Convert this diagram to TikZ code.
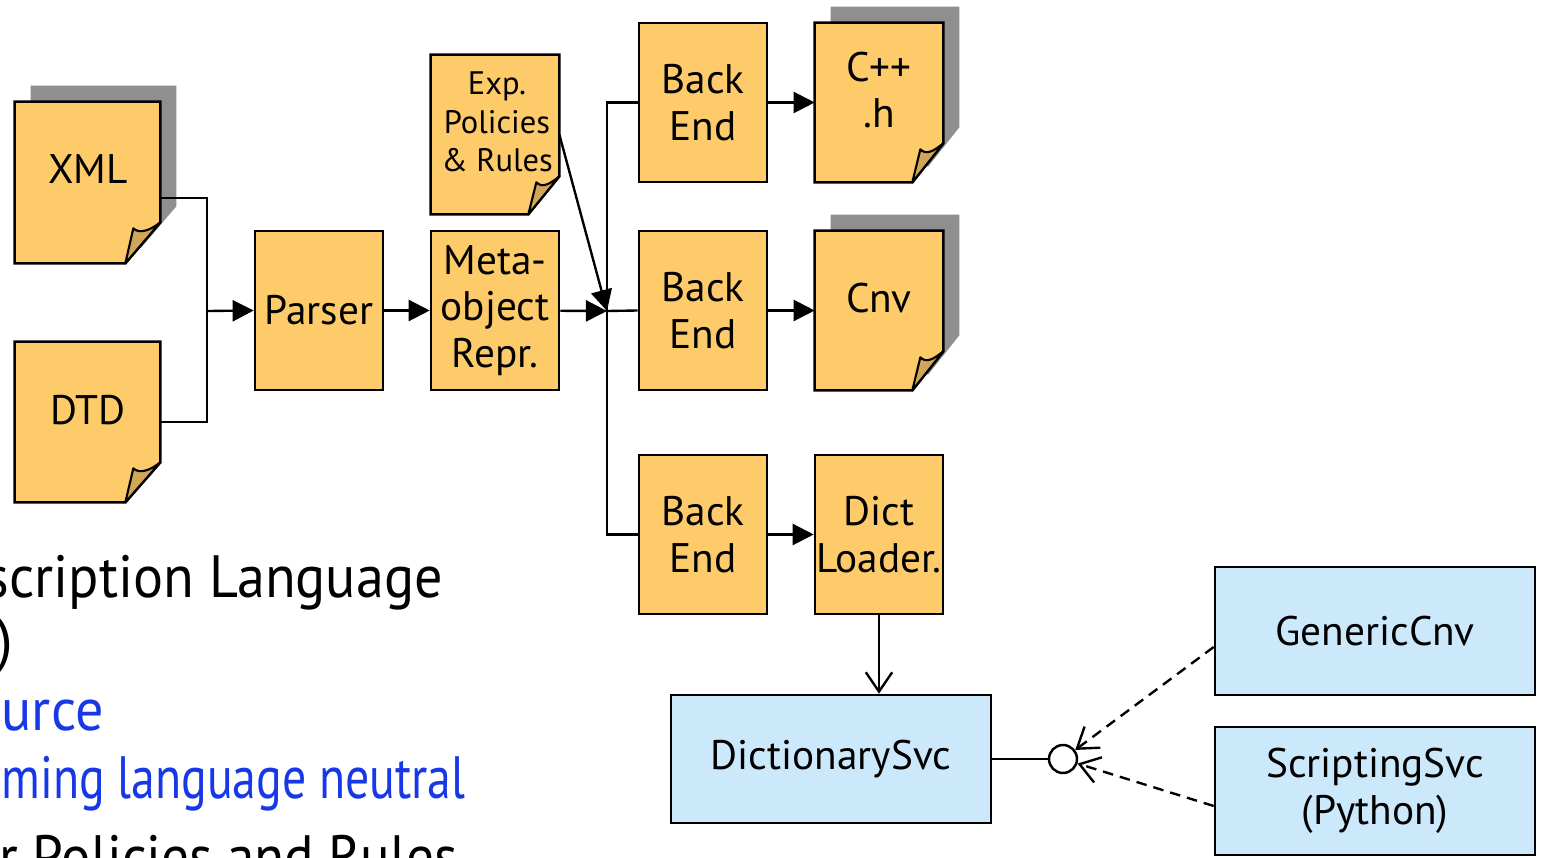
\documentclass[tikz,border=0pt]{standalone}
\usepackage{fontspec}
\setmainfont{PT Sans}
\usetikzlibrary{arrows.meta,calc}
\definecolor{docfill}{HTML}{FDCB69}
\definecolor{flapfill}{HTML}{D2A658}
\definecolor{shadowc}{HTML}{8F8F8F}
\definecolor{svcfill}{HTML}{CCE9FB}
\definecolor{bluetxt}{HTML}{1838E8}
\tikzset{
 box/.style={draw, line width=1.5pt, fill=docfill, inner sep=0pt, minimum width=2.56cm, minimum height=3.18cm, align=center, font=\fontsize{23.5}{26.5}\selectfont},
 docnode/.style={inner sep=0pt, draw=none},
 doctext/.style={align=center, inner sep=0pt, font=\fontsize{23.5}{26.5}\selectfont},
 svc/.style={draw, line width=1.5pt, fill=svcfill, inner sep=0pt, minimum width=6.4cm, minimum height=2.56cm, align=center, font=\fontsize{23.5}{26.5}\selectfont},
 conn/.style={line width=1.35pt},
 tri/.style={-{Triangle[length=12pt,width=12pt]}},
 barb/.style={-{Straight Barb[length=11pt,width=15pt]}},
 bigtxt/.style={anchor=base east, inner sep=0pt, font=\fontsize{34}{40}\selectfont},
}
\newcommand\DocShadow[3]{%
 \fill[shadowc] ($(#1.north west)+(16,-16)$) -- ($(#1.north east)+(16,-16)$) -- ($(#1.south east)+(16,-16-#3)$) -- ($(#1.south east)+(16-#2,-16)$) -- ($(#1.south west)+(16,-16)$) -- cycle;}
\newcommand\DocFace[3]{%
 \draw[line width=1.5pt, fill=docfill] (#1.north west) -- (#1.north east) -- ($(#1.south east)+(0,-#3)$) -- ($(#1.south east)+(-#2,0)$) -- (#1.south west) -- cycle;
 \draw[line width=1.2pt, fill=flapfill, line join=round] ($(#1.south east)+(-#2,0)$) -- ($(#1.south east)+(-#2+8,-#3+6)$) .. controls ($(#1.south east)+(-#2+14,-#3+12)$) and ($(#1.south east)+(-10,-#3+8)$) .. ($(#1.south east)+(0,-#3)$) -- cycle;}
\begin{document}
\begin{tikzpicture}[x=0.02cm,y=-0.02cm]
\useasboundingbox (0,0) rectangle (1551,858);
% document shapes
\node[docnode, minimum width=2.9cm, minimum height=3.22cm] (xml) at (87.5,182.5) {};
\node[docnode, minimum width=2.9cm, minimum height=3.2cm] (dtd) at (87.5,422) {};
\node[docnode, minimum width=2.56cm, minimum height=3.18cm] (exp) at (495,134.5) {};
\node[docnode, minimum width=2.56cm, minimum height=3.18cm] (cpp) at (879,102.5) {};
\node[docnode, minimum width=2.56cm, minimum height=3.18cm] (cnv) at (879,310.5) {};
\DocShadow{xml}{35}{41}
\DocShadow{cpp}{31}{39}
\DocShadow{cnv}{31}{39}
\DocFace{xml}{35}{41}
\DocFace{dtd}{35}{40}
\DocFace{exp}{31}{38}
\DocFace{cpp}{31}{39}
\DocFace{cnv}{31}{39}
\node[doctext] (xmlt) at (88,169) {XML};
\node[doctext] (dtdt) at (88,410) {DTD};
\node[doctext, font=\fontsize{18.5}{21.8}\selectfont] (expt) at (497,122) {Exp.\\Policies\\\& Rules};
\node[doctext] (cppt) at (879,90) {C++\\.h};
\node[doctext] (cnvt) at (879,298) {Cnv};
% boxes
\node[box] (parser) at (319,310.5) {Parser};
\node[box] (meta) at (495,310.5) {Meta-\\object\\Repr.};
\node[box] (be1) at (703,102.5) {Back\\End};
\node[box] (be2) at (703,310.5) {Back\\End};
\node[box] (be3) at (703,534.5) {Back\\End};
\node[box] (dict) at (879,534.5) {Dict\\Loader.};
\node[svc] (dsvc) at (831,759) {DictionarySvc};
\node[svc] (gcnv) at (1375,631) {GenericCnv};
\node[svc] (ssvc) at (1375,791) {ScriptingSvc\\(Python)};
\node[draw, circle, line width=1.4pt, fill=white, minimum size=0.56cm, inner sep=0pt] (lolli) at (1063,759) {};
% connectors
\coordinate (j1) at (207,311);
\coordinate (j2) at (607,311);
\draw[conn] ($(xml.east)+(0,15.5)$) -| (j1);
\draw[conn] (dtd.east) -| (j1);
\draw[conn,tri] (j1) -- (parser.west);
\draw[conn,tri] (parser) -- (meta);
\draw[conn,tri] (meta) -- (j2);
\draw[conn,tri] (exp.east) -- (j2);
\draw[conn] (be1.west) -| (j2) |- (be3.west);
\draw[conn] (j2) -- (be2.west);
\draw[conn,tri] (be1) -- (cpp);
\draw[conn,tri] (be2) -- (cnv);
\draw[conn,tri] (be3) -- (dict);
\draw[conn,barb] (dict.south) -- (dict.south |- dsvc.north);
\draw[conn] (dsvc.east) -- (lolli);
\draw[conn,dash pattern=on 6pt off 4pt,barb] ($(gcnv.west)+(0,16)$) -- (lolli);
\draw[conn,dash pattern=on 6pt off 4pt,barb] ($(ssvc.west)+(0,15)$) -- (lolli);
% text
\begin{scope}
\clip (0,0) rectangle (1551,858);
\node[bigtxt] (l1) at (443,597) {\scalebox{0.94}[1]{scription Language}};
\node[bigtxt] (l2) at (14,660) {)};
\node[bigtxt, text=bluetxt] (l3) at (104,730) {\scalebox{0.94}[1]{ource}};
\node[bigtxt, text=bluetxt] (l4) at (466,798) {\scalebox{0.8}[1]{ming language neutral}};
\node[bigtxt] (l5) at (458,877) {\scalebox{0.92}[1]{r Policies and Rules}};
\end{scope}
\end{tikzpicture}
\end{document}
